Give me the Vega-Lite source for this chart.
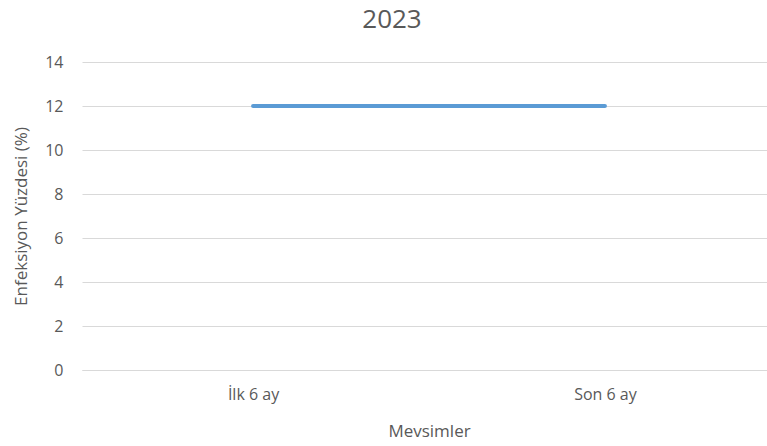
{
  "$schema": "https://vega.github.io/schema/vega-lite/v6.json",
  "width": 694,
  "height": 308,
  "autosize": {"type": "none"},
  "padding": {"left": 82, "top": 62, "right": 0, "bottom": 76},
  "background": "white",
  "title": {
    "text": "2023",
    "fontSize": 26,
    "font": "Open Sans",
    "fontWeight": "normal",
    "color": "#595959",
    "anchor": "middle",
    "dx": -37,
    "offset": 21
  },
  "config": {
    "view": {"stroke": null},
    "axis": {
      "labelFont": "Open Sans",
      "titleFont": "Open Sans",
      "labelColor": "#595959",
      "titleColor": "#595959",
      "labelFontSize": 16,
      "titleFontSize": 17,
      "titleFontWeight": "normal",
      "ticks": false,
      "gridColor": "#D9D9D9",
      "gridWidth": 1
    }
  },
  "data": {
    "values": [
      {"donem": "İlk 6 ay", "yuzde": 12},
      {"donem": "Son 6 ay", "yuzde": 12}
    ]
  },
  "mark": {"type": "line", "color": "#5B9BD5", "strokeWidth": 4, "strokeCap": "round"},
  "encoding": {
    "x": {
      "field": "donem",
      "type": "nominal",
      "sort": null,
      "scale": {"type": "point", "padding": 0.486},
      "axis": {
        "title": "Mevsimler",
        "labelAngle": 0,
        "labelPadding": 16,
        "titlePadding": 21,
        "domainColor": "#D9D9D9",
        "grid": false
      }
    },
    "y": {
      "field": "yuzde",
      "type": "quantitative",
      "scale": {"domain": [0, 14]},
      "axis": {
        "title": "Enfeksiyon Yüzdesi (%)",
        "values": [0, 2, 4, 6, 8, 10, 12, 14],
        "domain": false,
        "labelPadding": 19,
        "titlePadding": 14
      }
    }
  }
}
